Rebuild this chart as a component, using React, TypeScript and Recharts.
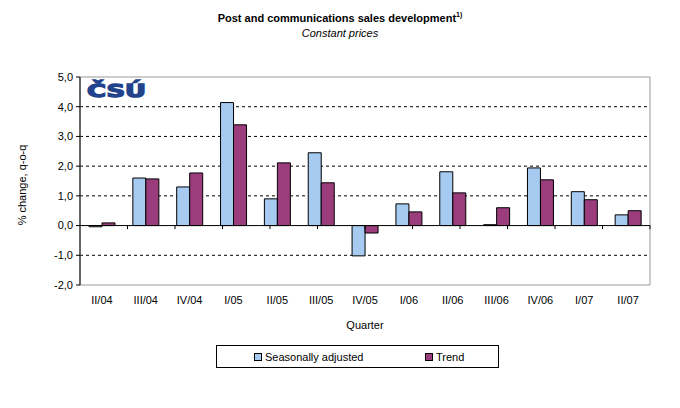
import React from 'react';
import {
  BarChart,
  Bar,
  XAxis,
  YAxis,
  CartesianGrid,
  ReferenceLine,
  ReferenceArea,
  Legend,
} from 'recharts';

const quarters = ['II/04', 'III/04', 'IV/04', 'I/05', 'II/05', 'III/05', 'IV/05', 'I/06', 'II/06', 'III/06', 'IV/06', 'I/07', 'II/07'];
const seasonallyAdjusted = [-0.04, 1.6, 1.3, 4.14, 0.9, 2.45, -1.02, 0.73, 1.81, 0.03, 1.94, 1.14, 0.36];
const trend = [0.09, 1.57, 1.77, 3.39, 2.11, 1.44, -0.25, 0.46, 1.1, 0.6, 1.54, 0.87, 0.5];
const yTicks = [-2, -1, 0, 1, 2, 3, 4, 5];
const gridValues = [4, 3, 2, 1, -1];

const data = quarters.map((q, i) => ({ q, sa: seasonallyAdjusted[i], trend: trend[i] }));
const boundaries = quarters.map((_, i) => i + 1);

const FONT = '"Liberation Sans", Arial, sans-serif';
const BLUE = '#a6caf0';
const PLUM = '#9b3d7c';

const fmt = (v: number) => v.toFixed(1).replace('.', ',');

function LegendBox() {
  const item = (color: string, label: string, left: number) => (
    <div style={{ position: 'absolute', left, top: 5, display: 'flex', alignItems: 'center' }}>
      <span style={{ width: 6, height: 6, background: color, border: '1px solid #000', marginRight: 3 }} />
      <span style={{ fontSize: 11, lineHeight: '12px' }}>{label}</span>
    </div>
  );
  return (
    <div style={{ position: 'relative', width: 281, height: 21, border: '1px solid #000', background: '#fff', fontFamily: FONT }}>
      {item(BLUE, 'Seasonally adjusted', 37)}
      {item(PLUM, 'Trend', 208)}
    </div>
  );
}

export default function App() {
  return (
    <div style={{ position: 'absolute', left: 0, top: 0, width: 680, height: 408, background: '#fff', fontFamily: FONT }}>
      <div style={{ position: 'absolute', left: 0, width: 680, top: 11, textAlign: 'center', fontSize: 11, fontWeight: 'bold' }}>
        Post and communications sales development<sup style={{ fontSize: 7 }}>1)</sup>
      </div>
      <div style={{ position: 'absolute', left: 0, width: 680, top: 27, textAlign: 'center', fontSize: 11, fontStyle: 'italic' }}>
        Constant prices
      </div>
      <div
        style={{
          position: 'absolute',
          left: 22,
          top: 185,
          fontSize: 11,
          whiteSpace: 'nowrap',
          transform: 'translate(-50%, -50%) rotate(-90deg)',
        }}
      >
        % change, q-o-q
      </div>
      <div style={{ position: 'absolute', left: 80, width: 570, top: 319, textAlign: 'center', fontSize: 11 }}>Quarter</div>
      <BarChart
        width={680}
        height={408}
        data={data}
        margin={{ top: 77, right: 30, left: 0, bottom: 93 }}
        barGap={0}
        barSize={13}
      >
        <ReferenceArea y1={-2} y2={5} fill="none" stroke="#999" strokeWidth={1} />
        <CartesianGrid vertical={false} horizontalValues={gridValues} stroke="#000" strokeDasharray="3 3" />
        <XAxis
          dataKey="q"
          axisLine={false}
          tickLine={false}
          tickSize={9}
          tickMargin={2}
          height={30}
          interval={0}
          tick={{ fontSize: 11, fill: '#000', fontFamily: FONT }}
        />
        <XAxis xAxisId="n" type="number" domain={[0, 13]} hide />
        <YAxis
          domain={[-2, 5]}
          ticks={yTicks}
          interval={0}
          width={80}
          tickFormatter={fmt}
          axisLine={{ stroke: '#000' }}
          tickLine={{ stroke: '#000' }}
          tickSize={4}
          tickMargin={3}
          tick={{ fontSize: 11, fill: '#000', fontFamily: FONT }}
        />
        <Bar dataKey="sa" name="Seasonally adjusted" fill={BLUE} stroke="#000" strokeWidth={1} isAnimationActive={false} />
        <Bar dataKey="trend" name="Trend" fill={PLUM} stroke="#000" strokeWidth={1} isAnimationActive={false} />
        <ReferenceLine y={0} stroke="#000" />
        {boundaries.map((b) => (
          <ReferenceLine
            key={b}
            xAxisId="n"
            segment={[
              { x: b, y: 0 },
              { x: b, y: -0.12 },
            ]}
            stroke="#000"
          />
        ))}
        <Legend
          verticalAlign="middle"
          align="center"
          wrapperStyle={{ position: 'absolute', left: 216, top: 345, width: 283, height: 23 }}
          content={() => <LegendBox />}
        />
      </BarChart>
      <svg style={{ position: 'absolute', left: 85, top: 76 }} width={64} height={24}>
        <text
          x={2}
          y={21}
          textLength={59}
          lengthAdjust="spacingAndGlyphs"
          fontFamily='"DejaVu Sans", sans-serif'
          fontWeight={900}
          fontSize={17}
          fill="#22428c"
          stroke="#22428c"
          strokeWidth={1.3}
        >
          ČSÚ
        </text>
      </svg>
    </div>
  );
}
